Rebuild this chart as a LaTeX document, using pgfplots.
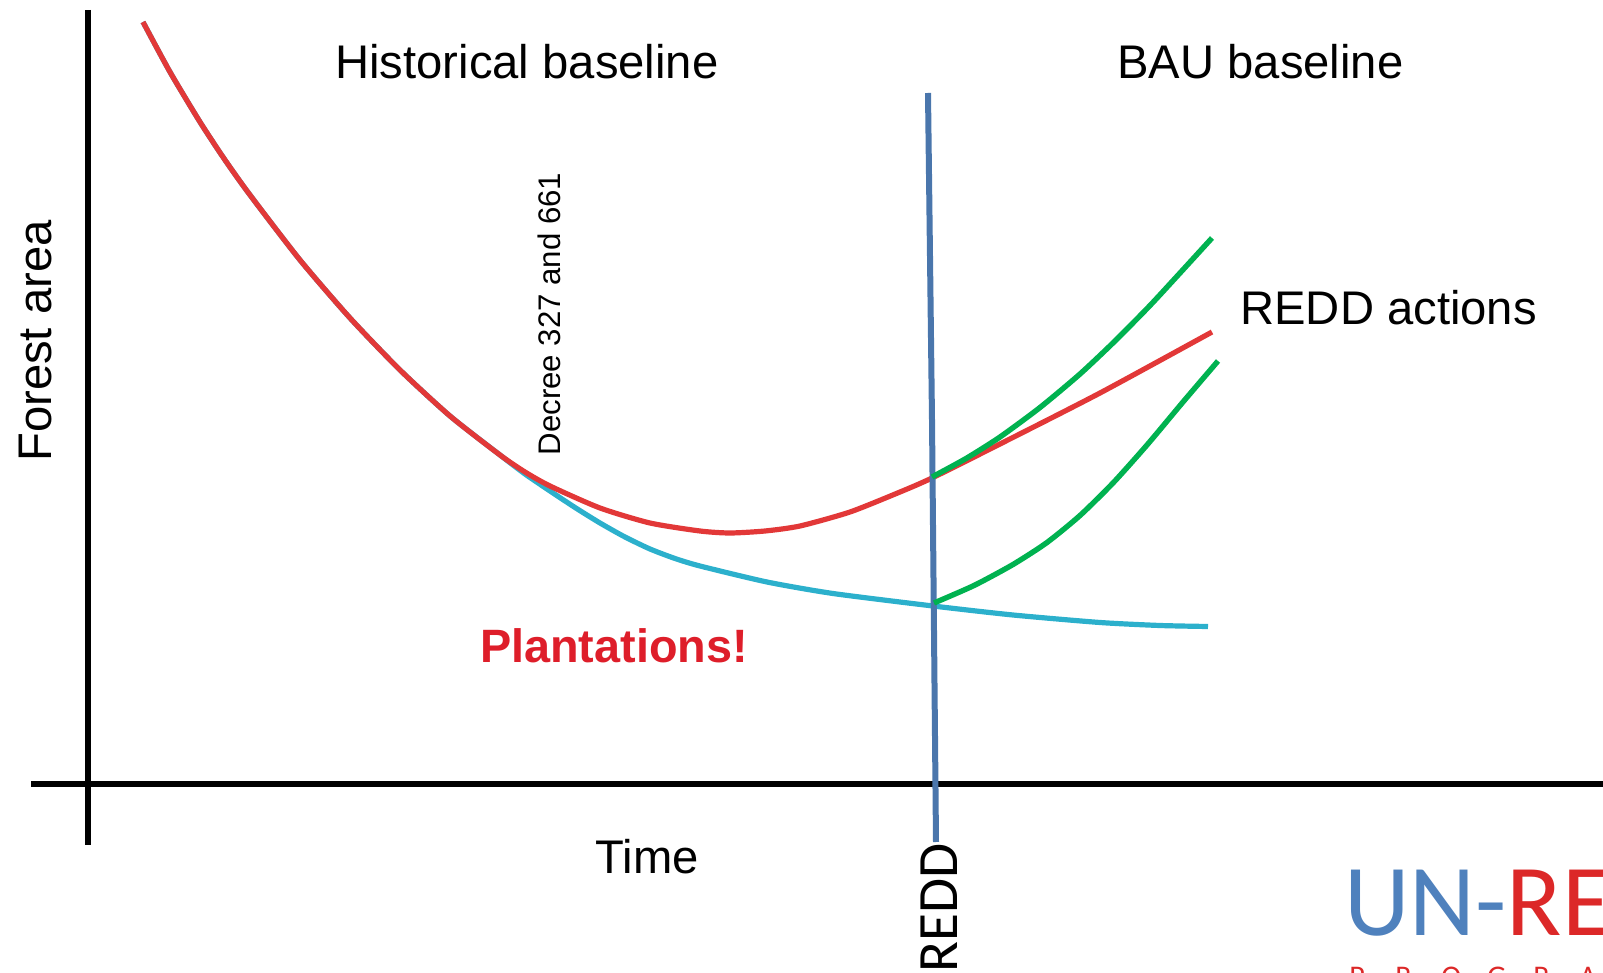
\documentclass[border=0pt]{standalone}
\usepackage{pgfplots}
\pgfplotsset{compat=1.18}
\usepackage{fontspec}
\setmainfont{Liberation Sans}
\newfontfamily\calib{Carlito}
\definecolor{redline}{RGB}{226,56,56}
\definecolor{cyanline}{RGB}{44,176,204}
\definecolor{greenline}{RGB}{0,178,80}
\definecolor{blueline}{RGB}{74,118,172}
\definecolor{plantred}{RGB}{222,30,42}
\definecolor{logoblue}{RGB}{79,129,189}
\definecolor{logored}{RGB}{220,40,40}
\begin{document}
\begin{tikzpicture}
\useasboundingbox (0,0) rectangle (801.5pt,486.5pt);
\clip (0,0) rectangle (801.5pt,486.5pt);
\begin{axis}[
  at={(400.75pt,243.25pt)}, anchor=center,
  scale only axis, width=801.5pt, height=486.5pt,
  xmin=0, xmax=1603, ymin=0, ymax=973, y dir=reverse,
  axis lines=none, clip=false, ticks=none,
]
% axes
\addplot[black, line width=2.7pt, no markers] coordinates {(31,784) (1603,784)};
\addplot[black, line width=2.9pt, no markers] coordinates {(88,10) (88,845)};
% BAU baseline (cyan)
\addplot[cyanline, line width=2.6pt, smooth, tension=0.4, no markers, line join=round] coordinates {
(143,22) (170,72) (200,122) (225,160) (250,195) (300,260) (350,318) (400,370) (450,416) (500,455)
(525,474) (550,491) (575,507.5) (600,523) (625,537) (650,549) (675,558.5) (700,566) (767,582) (833,593.5) (933,606)
(1013,615) (1100,622.5) (1160,625.5) (1208,626.5)};
% historical with plantations (red)
\addplot[redline, line width=2.6pt, smooth, tension=0.4, no markers, line join=round] coordinates {
(143,22) (170,72) (200,122) (225,160) (250,195) (300,260) (350,318) (400,370) (450,416) (500,455)
(525,472) (550,486) (600,508) (650,523) (700,531) (730,533) (765,531) (800,526)
(850,512) (900,492) (932,478) (1000,444) (1100,393) (1212,332)};
% REDD vertical line
\addplot[blueline, line width=3pt, no markers] coordinates {(928,93) (932,420) (936,842)};
% REDD actions (green)
\addplot[greenline, line width=2.7pt, smooth, tension=0.4, no markers, line join=round] coordinates {
(932,477) (966,458.5) (1000,437) (1040,407.5) (1080,374) (1115,341) (1150,305.5) (1180,273) (1212,238)};
\addplot[greenline, line width=2.7pt, smooth, tension=0.4, no markers, line join=round] coordinates {
(934,603) (974,585.5) (1013,564.5) (1047,542.5) (1080,515.5) (1113,483) (1147,445) (1183,402) (1218,361)};
% texts
\node[anchor=base west, inner sep=0pt, font=\fontsize{23.6}{28}\selectfont] at (axis cs:335,79) {Historical baseline};
\node[anchor=base west, inner sep=0pt, font=\fontsize{23.6}{28}\selectfont] at (axis cs:1117,79) {BAU baseline};
\node[anchor=base west, inner sep=0pt, font=\fontsize{23.6}{28}\selectfont] at (axis cs:1240,325) {REDD actions};
\node[rotate=90, anchor=base, inner sep=0pt, font=\fontsize{23.6}{28}\selectfont] at (axis cs:52,341) {Forest area};
\node[rotate=90, anchor=base, inner sep=0pt, font=\fontsize{15.6}{19}\selectfont] at (axis cs:560,314) {Decree 327 and 661};
\node[anchor=base, inner sep=0pt, text=plantred, font=\bfseries\fontsize{23.4}{28}\selectfont] at (axis cs:614,662) {Plantations!};
\node[anchor=base, inner sep=0pt, font=\fontsize{23.6}{28}\selectfont] at (axis cs:647,873) {Time};
\node[rotate=90, anchor=base east, inner sep=0pt, font=\calib\fontsize{28.5}{34}\selectfont] at (axis cs:957,843) {REDD};
% logo
\node[anchor=base west, inner sep=0pt, font=\calib\fontsize{51}{60}\selectfont] at (axis cs:1344,935) {\textcolor{logoblue}{UN-}\textcolor{logored}{REDD}};
\node[anchor=north west, inner sep=0pt, text=logored, font=\calib\fontsize{15}{18}\selectfont] at (axis cs:1349,967) {\makebox[23pt][l]{P}\makebox[23pt][l]{R}\makebox[23pt][l]{O}\makebox[23pt][l]{G}\makebox[23pt][l]{R}\makebox[23pt][l]{A}\makebox[23pt][l]{M}\makebox[23pt][l]{M}\makebox[23pt][l]{E}};
\end{axis}
\end{tikzpicture}
\end{document}
